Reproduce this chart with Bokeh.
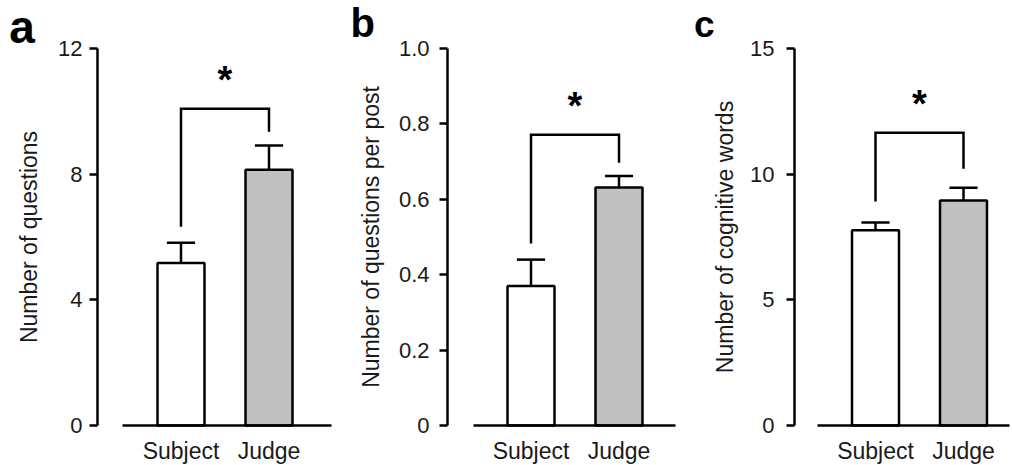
from bokeh.plotting import figure
from bokeh.layouts import row
from bokeh.models import Range1d, FixedTicker
from bokeh.embed import file_html
from bokeh.resources import INLINE
from bokeh.core.properties import value

# ---------------- data ----------------
groups = ["Subject", "Judge"]
group_pos = [1, 2]

a_means = [5.17, 8.14]
a_errs = [0.65, 0.77]
a_bracket = [6.33, 10.08, 9.35]      # left leg end, bracket top, right leg end
a_ticks = [0, 4, 8, 12]
a_tick_labels = ["0", "4", "8", "12"]
a_ymax = 12
a_ylabel = "Number of questions"
a_letter = "a"

b_means = [0.370, 0.631]
b_errs = [0.070, 0.031]
b_bracket = [0.483, 0.771, 0.697]
b_ticks = [0, 0.2, 0.4, 0.6, 0.8, 1.0]
b_tick_labels = ["0", "0.2", "0.4", "0.6", "0.8", "1.0"]
b_ymax = 1.0
b_ylabel = "Number of questions per post"
b_letter = "b"

c_means = [7.77, 8.95]
c_errs = [0.31, 0.51]
c_bracket = [8.91, 11.65, 10.22]
c_ticks = [0, 5, 10, 15]
c_tick_labels = ["0", "5", "10", "15"]
c_ymax = 15
c_ylabel = "Number of cognitive words"
c_letter = "c"

sig_mark = "*"
bar_colors = ["white", "#c0c0c0"]

FONT = "Liberation Sans"
LW = 2.5
H = 465
ZERO_PX = 425           # px from top where y = 0
AXIS_TOP = 48           # px from top where y = ymax
PXU = 88.0              # px per x unit


def panel(means, errs, bracket, ticks, tick_labels, ymax, ylabel, letter,
          width, x_start, axis_x, xbounds, tick_standoff, label_standoff,
          letter_size, letter_dx, letter_dy):
    ppu_y = (ZERO_PX - AXIS_TOP) / ymax
    y_end = ZERO_PX / ppu_y
    y_start = -(H - ZERO_PX) / ppu_y
    x_end = x_start + width / PXU
    p = figure(width=width, height=H, output_backend="svg", toolbar_location=None,
               x_range=Range1d(x_start, x_end), y_range=Range1d(y_start, y_end),
               min_border_left=0, min_border_right=0,
               min_border_top=0, min_border_bottom=0)
    p.outline_line_color = None
    p.grid.visible = False
    p.background_fill_color = "white"
    p.border_fill_color = "white"

    top = [m + e for m, e in zip(means, errs)]
    # error bars
    p.segment(x0=group_pos, y0=means, x1=group_pos, y1=top, line_color="black", line_width=LW)
    p.segment(x0=[g - 0.16 for g in group_pos], y0=top, x1=[g + 0.16 for g in group_pos], y1=top,
              line_color="black", line_width=LW)
    # bars
    p.vbar(x=group_pos, top=means, width=0.534, fill_color=bar_colors,
           line_color="black", line_width=LW)
    # significance bracket
    p.line(x=[group_pos[0], group_pos[0], group_pos[1], group_pos[1]],
           y=[bracket[0], bracket[1], bracket[1], bracket[2]],
           line_color="black", line_width=LW, line_join="miter")
    p.text(x=[(group_pos[0] + group_pos[1]) / 2], y=[bracket[1] + 29 / ppu_y], text=[sig_mark],
           text_font=value(FONT), text_font_size="38px", text_font_style="bold",
           text_align="center", text_baseline="middle", text_color="black")
    # panel letter
    p.text(x=[axis_x + letter_dx / PXU], y=[ymax + letter_dy / ppu_y], text=[letter],
           text_font=value(FONT), text_font_size=letter_size, text_font_style="bold",
           text_align="left", text_baseline="alphabetic", text_color="black")

    # y axis (placed at a fixed data location)
    ya = p.yaxis[0]
    ya.fixed_location = axis_x
    ya.bounds = (0, ymax)
    ya.ticker = FixedTicker(ticks=ticks)
    ya.major_label_overrides = {t: l for t, l in zip(ticks, tick_labels)}
    ya.minor_tick_line_color = None
    ya.major_tick_in = 0
    ya.major_tick_out = 8
    ya.major_tick_line_width = LW
    ya.axis_line_width = LW
    ya.major_label_text_font = FONT
    ya.major_label_text_font_size = "22px"
    ya.major_label_text_color = "#1a1a1a"
    ya.major_label_standoff = tick_standoff
    ya.axis_label = ylabel
    ya.axis_label_text_font = FONT
    ya.axis_label_text_font_size = "23px"
    ya.axis_label_text_font_style = "normal"
    ya.axis_label_text_color = "#1a1a1a"
    ya.axis_label_standoff = label_standoff

    # x axis (at y = 0)
    xa = p.xaxis[0]
    xa.fixed_location = 0
    xa.ticker = FixedTicker(ticks=group_pos)
    xa.major_label_overrides = {g: n for g, n in zip(group_pos, groups)}
    xa.major_tick_line_color = None
    xa.minor_tick_line_color = None
    xa.major_tick_in = 0
    xa.major_tick_out = 0
    xa.axis_line_width = LW
    xa.bounds = xbounds
    xa.major_label_text_font = FONT
    xa.major_label_text_font_size = "23px"
    xa.major_label_text_color = "#1a1a1a"
    xa.major_label_standoff = 12
    return p


pa = panel(a_means, a_errs, a_bracket, a_ticks, a_tick_labels, a_ymax, a_ylabel, a_letter,
           340, 1 - 180.5 / PXU, 0.051, (0.335, 2.71), 7, 13, "46px", -88.3, 21.4)
pb = panel(b_means, b_errs, b_bracket, b_ticks, b_tick_labels, b_ymax, b_ylabel, b_letter,
           340, 1 - 190.5 / PXU, 0.051, (0.348, 2.64), 10, 12, "40px", -97, 25.3)
pc = panel(c_means, c_errs, c_bracket, c_ticks, c_tick_labels, c_ymax, c_ylabel, c_letter,
           332, 1 - 195 / PXU, 0.0795, (0.341, 2.52), 12, 9, "37px", -100.5, 24.3)

layout = row(pa, pb, pc)
open("out.html", "w").write(file_html(layout, INLINE))
